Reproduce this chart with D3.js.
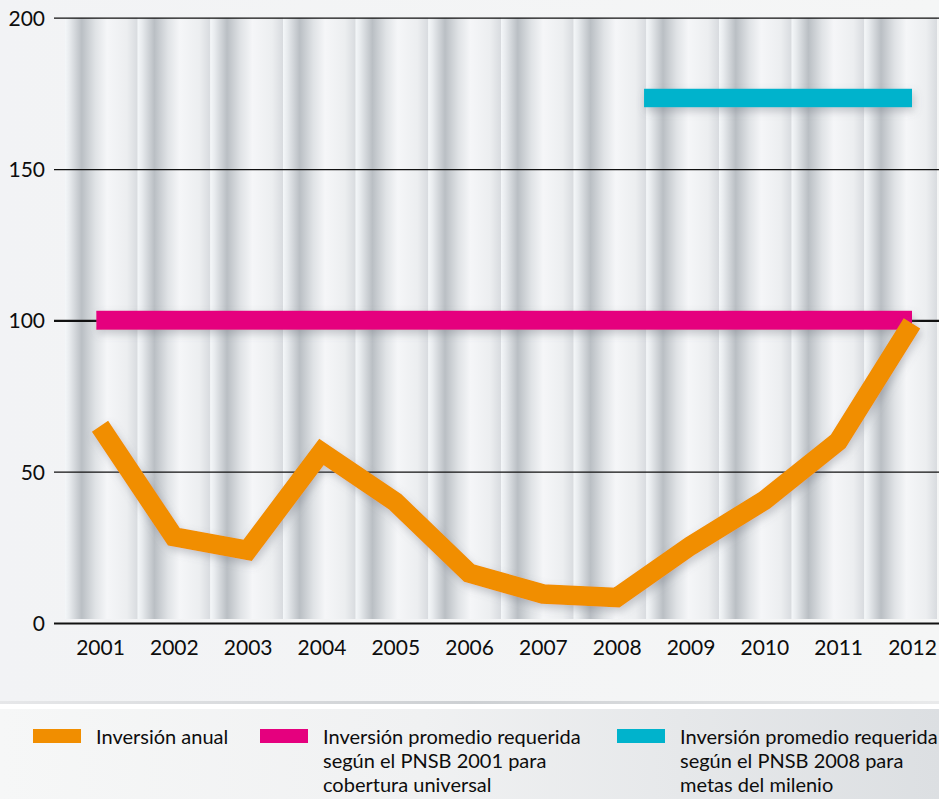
<!DOCTYPE html>
<meta charset="utf-8">
<body>
    <div id='chart'></div>
</body>
<script src="https://d3js.org/d3.v7.min.js"></script>
<style>
    body {
        margin: 0;
        background-color: #f2f3f4;
    }
    text {
        font-family: Lato, 'Open Sans', sans-serif;
        fill: #0d0d0d;
    }
    .domain {
        display: none;
    }
</style>
<script>
    // datos
    var years = [2001, 2002, 2003, 2004, 2005, 2006, 2007, 2008, 2009, 2010, 2011, 2012];
    var inversionAnual = [65, 28.5, 24, 56.5, 40, 16.5, 9.6, 8.4, 25.5, 40.5, 60, 99];
    var pnsb2001 = [[2000.95, 100], [2012, 100]];
    var pnsb2008 = [[2008.37, 173.5], [2012, 173.5]];
    var yTicks = [0, 50, 100, 150, 200];
    var legendLabels = [
        ["Inversión anual"],
        ["Inversión promedio requerida", "según el PNSB 2001 para", "cobertura universal"],
        ["Inversión promedio requerida", "según el PNSB 2008 para", "metas del milenio"]
    ];
    var colors = ["#f18e00", "#e5007e", "#00b3cc"];

    var width = 939,
        height = 799;

    var svg = d3.select("#chart")
        .append('svg')
            .attr("width", width)
            .attr('height', height);

    var x = d3.scaleLinear().domain([2001, 2012]).range([100, 912]);
    var y = d3.scaleLinear().domain([0, 200]).range([623, 17.7]);

    var defs = svg.append("defs");

    var bgGrad = defs.append("linearGradient").attr("id", "bgGrad");
    bgGrad.append("stop").attr("offset", 0).attr("stop-color", "#f2f3f5");
    bgGrad.append("stop").attr("offset", 1).attr("stop-color", "#f5f6f6");

    var legGrad = defs.append("linearGradient").attr("id", "legGrad");
    legGrad.append("stop").attr("offset", 0).attr("stop-color", "#f6f7f7");
    legGrad.append("stop").attr("offset", 0.45).attr("stop-color", "#f0f1f2");
    legGrad.append("stop").attr("offset", 1).attr("stop-color", "#dcdfe2");

    var colGrad = defs.append("linearGradient").attr("id", "colGrad");
    [[0, "#f4f7f9"], [0.06, "#e8ebee"], [0.23, "#babfc4"], [0.42, "#e0e3e6"],
     [0.58, "#f5f6f8"], [0.85, "#eceef0"], [1, "#d8dbdf"]].forEach(function(s) {
        colGrad.append("stop").attr("offset", s[0]).attr("stop-color", s[1]);
    });

    var shadowGrad = defs.append("linearGradient").attr("id", "shadowGrad");
    shadowGrad.append("stop").attr("offset", 0).attr("stop-color", "#e6e7e9");
    shadowGrad.append("stop").attr("offset", 0.5).attr("stop-color", "#cdd0d3");
    shadowGrad.append("stop").attr("offset", 1).attr("stop-color", "#e9eaeb");

    // sombra en coordenadas de usuario (las lineas horizontales no tienen alto)
    defs.append("filter").attr("id", "shadow")
        .attr("filterUnits", "userSpaceOnUse")
        .attr("x", 0).attr("y", 0).attr("width", width).attr("height", height)
        .append("feDropShadow")
            .attr("dx", 2).attr("dy", 4).attr("stdDeviation", 4)
            .attr("flood-color", "#6a7078").attr("flood-opacity", 0.35);

    // fondo
    svg.append("rect")
        .attr("width", width).attr("height", 703)
        .attr("fill", "url(#bgGrad)");
    svg.append("rect")
        .attr("y", 701).attr("width", width).attr("height", 3)
        .attr("fill", "url(#shadowGrad)");
    svg.append("rect")
        .attr("y", 704).attr("width", width).attr("height", 5)
        .attr("fill", "#ffffff");
    svg.append("rect")
        .attr("y", 709).attr("width", width).attr("height", height - 709)
        .attr("fill", "url(#legGrad)");

    // columnas
    var colX = d3.scaleLinear().domain([0, years.length]).range([65, 937]);
    svg.append("g")
        .attr("class", "columns")
        .selectAll("rect")
        .data(years)
        .enter().append("rect")
            .attr("x", function(d, i) { return colX(i); })
            .attr("y", y(200))
            .attr("width", colX(1) - colX(0))
            .attr("height", 619 - y(200))
            .attr("fill", "url(#colGrad)");

    // eje y con lineas de grilla
    var yAxis = svg.append("g")
        .attr("transform", "translate(54,0)")
        .call(d3.axisLeft(y).tickValues(yTicks).tickSize(-(width - 54)).tickPadding(9));
    yAxis.selectAll(".tick line")
        .attr("stroke", "#111")
        .attr("stroke-width", function(d) { return (d == 0 || d == 100) ? 2.2 : 1.3; });
    yAxis.selectAll(".tick text")
        .attr("font-size", 21)
        .attr("dy", "0.35em");

    // eje x
    var xAxis = svg.append("g")
        .attr("transform", "translate(0," + y(0) + ")")
        .call(d3.axisBottom(x).tickValues(years).tickFormat(d3.format("d")).tickSize(0).tickPadding(17));
    xAxis.selectAll(".tick text")
        .attr("font-size", 21);

    var line = d3.line()
        .x(function(d) { return x(d[0]); })
        .y(function(d) { return y(d[1]); });

    svg.append("path")
        .datum(pnsb2001)
        .attr("d", line)
        .attr("fill", "none")
        .attr("stroke", colors[1])
        .attr("stroke-width", 19)
        .attr("filter", "url(#shadow)");

    svg.append("path")
        .datum(pnsb2008)
        .attr("d", line)
        .attr("fill", "none")
        .attr("stroke", colors[2])
        .attr("stroke-width", 18.5)
        .attr("filter", "url(#shadow)");

    svg.append("path")
        .datum(years.map(function(d, i) { return [d, inversionAnual[i]]; }))
        .attr("d", line)
        .attr("fill", "none")
        .attr("stroke", colors[0])
        .attr("stroke-width", 19.5)
        .attr("stroke-linejoin", "miter")
        .attr("filter", "url(#shadow)");

    // leyenda
    var legendX = [33, 260, 617];
    var legend = svg.append("g")
        .selectAll("g")
        .data(legendLabels)
        .enter().append("g")
            .attr("transform", function(d, i) { return "translate(" + legendX[i] + ",729)"; });

    legend.append("rect")
        .attr("width", 48)
        .attr("height", 14)
        .attr("fill", function(d, i) { return colors[i]; });

    legend.append("text")
        .attr("x", 63)
        .attr("y", 15)
        .attr("font-size", 20)
        .selectAll("tspan")
        .data(function(d) { return d; })
        .enter().append("tspan")
            .attr("x", 63)
            .attr("dy", function(d, i) { return i == 0 ? 0 : 24; })
            .text(function(d) { return d; });
</script>
